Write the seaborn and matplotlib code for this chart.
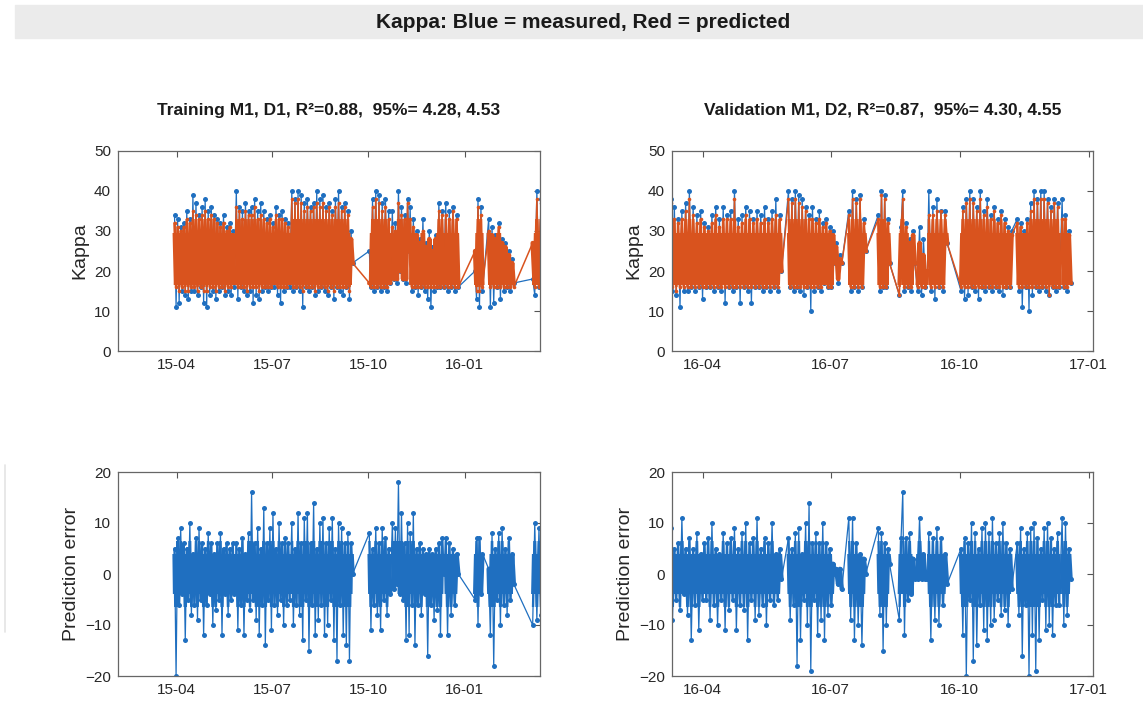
import numpy as np
import pandas as pd
import matplotlib.pyplot as plt
import matplotlib.dates as mdates
from matplotlib.patches import Rectangle
from matplotlib.lines import Line2D
import seaborn as sns

# --- training period (D1) ---
train_spans = [("2015-03-30", "2015-05-26"), ("2015-05-28", "2015-07-18"),
               ("2015-07-20", "2015-09-16"), ("2015-10-02", "2015-10-22"),
               ("2015-10-24", "2015-11-09"), ("2015-11-10", "2015-12-12"),
               ("2015-12-14", "2015-12-26"), ("2016-01-11", "2016-01-18"),
               ("2016-01-24", "2016-02-17"), ("2016-03-06", "2016-03-16")]
train_measured = [
    [34, 11, 33, 12, 31, 15, 32, 14, 35, 13, 33, 15, 39, 15, 37, 14, 34, 16, 36, 12,
     38, 11, 35, 14, 36, 15, 34, 13, 33, 15, 32, 16, 34, 14, 31, 15, 32, 14, 30, 16],
    [40, 13, 36, 16, 35, 15, 37, 14, 35, 15, 36, 12, 38, 14, 35, 13, 37, 15, 35, 16,
     33, 15, 34, 16, 32, 16, 36, 14, 34, 12, 35, 15, 33, 16, 32, 16],
    [40, 15, 38, 16, 40, 15, 39, 11, 37, 16, 38, 15, 36, 16, 37, 14, 40, 15, 38, 16,
     39, 15, 36, 14, 37, 16, 35, 13, 38, 16, 40, 15, 36, 14, 37, 16, 35, 13, 30, 22],
    [25, 16, 38, 15, 40, 16, 39, 15, 37, 16, 38, 15, 35, 17],
    [35, 18, 32, 17, 40, 20, 36, 18, 34, 17, 38, 25],
    [36, 15, 33, 16, 30, 14, 28, 16, 33, 15, 27, 13, 30, 11, 26, 15, 29, 16, 37, 16, 35, 16],
    [37, 15, 35, 16, 36, 15, 34, 16],
    [20, 13, 38, 11, 36, 15],
    [33, 11, 31, 12, 29, 16, 32, 13, 28, 15, 27, 16, 25, 15, 23, 17],
    [18, 14, 40, 16, 38, 20],
]
train_predicted = [
    [32, 16, 31, 15, 30, 16, 31, 15, 33, 15, 32, 16, 35, 16, 34, 15, 33, 16, 34, 15,
     35, 15, 33, 16, 34, 16, 33, 15, 32, 16, 31, 16, 32, 15, 30, 16, 31, 16, 29, 17],
    [36, 16, 35, 16, 33, 16, 35, 15, 34, 16, 34, 16, 36, 16, 33, 15, 34, 16, 33, 16,
     32, 16, 33, 16, 31, 17, 34, 16, 33, 16, 33, 16, 32, 16, 31, 17],
    [38, 16, 37, 16, 38, 16, 37, 15, 35, 16, 36, 16, 35, 16, 36, 15, 37, 16, 36, 16,
     37, 16, 35, 15, 36, 16, 34, 15, 36, 16, 37, 16, 35, 16, 36, 16, 34, 15, 28, 22],
    [17, 16, 36, 16, 38, 16, 37, 16, 35, 16, 36, 16, 33, 17],
    [31, 18, 30, 18, 37, 20, 34, 18, 33, 18, 37, 25],
    [33, 16, 31, 16, 29, 16, 27, 16, 30, 16, 26, 16, 28, 16, 25, 16, 28, 16, 35, 16, 34, 16],
    [34, 16, 33, 16, 35, 16, 33, 16],
    [25, 15, 36, 15, 34, 16],
    [30, 16, 29, 16, 28, 16, 31, 16, 27, 16, 26, 16, 24, 16, 22, 16],
    [27, 16, 38, 16, 37, 20],
]
train_error = [
    [5, -20, 7, -6, 9, -4, 6, -13, 5, -5, 10, -8, 4, -6, 7, -9, 9, -5, 6, -12,
     5, -6, 8, -4, 6, -10, 4, -7, 6, -5, 8, -12, 5, -4, 6, -8, 5, -5, 6, -4],
    [6, -11, 5, -6, 7, -12, 4, -5, 8, -7, 16, -5, 6, -9, 9, -12, 5, -6, 13, -14,
     6, -5, 9, -11, 12, -6, 5, -8, 10, -5, 6, -10, 7, -6, 6, -5],
    [10, -10, 5, -6, 12, -8, 6, -13, 11, -5, 12, -15, 6, -6, 14, -12, 5, -9, 10, -6,
     11, -12, 6, -10, 9, -5, 11, -13, 5, -17, 10, -6, 9, -12, 6, -14, 8, -17, 6, 0],
    [8, -11, 5, -6, 9, -8, 6, -11, 9, -5, 7, -8, 5, -4],
    [10, -3, 9, -2, 18, -4, 12, -5, 6, -13, 10, -12],
    [8, -6, 12, -14, 5, -6, 6, -8, 5, -4, 4, -16, 5, -6, 4, -9, 5, -7, 6, -12, 7, 0],
    [7, -12, 6, -8, 5, -6, 4, 0],
    [-5, 7, -10, 7, -4, 4],
    [1, -12, 8, -18, 5, -5, 8, -10, 9, -6, 5, -8, 7, -5, 4, -2],
    [-10, 10, -9, 9, -8, 5],
]

# --- validation period (D2) ---
val_spans = [("2016-03-09", "2016-05-27"), ("2016-06-01", "2016-07-04"),
             ("2016-07-05", "2016-07-09"), ("2016-07-14", "2016-07-26"),
             ("2016-08-04", "2016-08-12"), ("2016-08-19", "2016-08-30"),
             ("2016-09-01", "2016-09-08"), ("2016-09-09", "2016-09-22"),
             ("2016-10-02", "2016-11-07"), ("2016-11-11", "2016-12-11"),
             ("2016-12-13", "2016-12-19")]
val_measured = [
    [38, 15, 36, 14, 33, 11, 35, 15, 37, 15, 40, 16, 36, 15, 34, 16, 35, 13, 32, 16,
     31, 16, 34, 15, 36, 16, 33, 15, 36, 12, 34, 16, 35, 15, 40, 16, 33, 12, 34, 16,
     36, 15, 35, 12, 33, 16, 35, 16, 34, 15, 36, 16, 33, 15, 35, 16, 38, 15, 34, 20],
    [40, 16, 38, 15, 40, 16, 39, 15, 38, 14, 36, 16, 34, 10, 36, 15, 33, 16, 35, 15,
     32, 17, 33, 16, 31, 16, 30, 22],
    [27, 17, 24, 22],
    [35, 15, 40, 16, 38, 15, 39, 16, 33, 25],
    [34, 15, 40, 16, 39, 16, 33, 22],
    [14, 31, 40, 15, 32, 16, 28, 15, 30, 22],
    [15, 31, 14, 28, 16, 20],
    [40, 15, 36, 13, 38, 16, 35, 15, 35, 27],
    [15, 36, 13, 38, 14, 40, 16, 38, 15, 36, 13, 40, 16, 35, 15, 38, 16, 34, 15, 36,
     16, 33, 15, 35, 14, 33, 16, 31, 16, 30],
    [33, 15, 32, 11, 30, 16, 33, 10, 37, 14, 40, 16, 38, 15, 40, 16, 40, 15, 38, 14,
     36, 16, 38, 15, 37, 16],
    [38, 16, 34, 15, 30, 17],
]
val_predicted = [
    [37, 16, 33, 15, 32, 16, 33, 16, 35, 16, 38, 16, 34, 16, 32, 16, 33, 16, 31, 16,
     30, 16, 32, 16, 34, 16, 31, 16, 33, 16, 33, 16, 33, 16, 38, 16, 31, 16, 32, 16,
     34, 16, 33, 16, 32, 16, 33, 16, 32, 16, 33, 16, 32, 16, 33, 16, 34, 16, 33, 20],
    [38, 16, 37, 16, 38, 16, 37, 16, 36, 16, 35, 16, 33, 16, 33, 16, 32, 16, 33, 16,
     31, 17, 32, 16, 30, 16, 29, 22],
    [26, 18, 23, 22],
    [34, 16, 38, 16, 37, 16, 38, 16, 32, 25],
    [33, 16, 39, 16, 38, 16, 32, 22],
    [14, 30, 38, 16, 31, 16, 27, 16, 29, 22],
    [16, 27, 16, 24, 16, 20],
    [34, 16, 34, 16, 35, 16, 35, 16, 34, 27],
    [16, 35, 16, 37, 16, 38, 16, 37, 16, 35, 16, 38, 16, 34, 16, 36, 16, 33, 16, 35,
     16, 32, 16, 34, 16, 32, 16, 30, 16, 29],
    [32, 16, 31, 16, 29, 16, 32, 16, 35, 16, 38, 16, 37, 16, 38, 16, 38, 16, 37, 14,
     35, 16, 37, 16, 36, 16],
    [33, 16, 33, 16, 29, 17],
]
val_error = [
    [9, -9, 5, -5, 6, -7, 11, -4, 5, -8, 7, -13, 5, -6, 8, -11, 4, -5, 6, -5,
     7, -9, 10, -6, 5, -10, 4, -5, 8, -11, 6, -7, 7, -5, 9, -11, 5, -6, 8, -7,
     10, -13, 6, -5, 7, -9, 11, -8, 5, -6, 7, -10, 6, -5, 10, -6, 4, -5, 5, -1],
    [7, -9, 5, -6, 8, -18, 9, -13, 4, -5, 10, -10, 14, -19, 6, -5, 8, -12, 6, -9,
     10, -13, 6, -8, 5, -6, 2, 0],
    [1, -2, 1, -3],
    [11, -9, 11, -13, 6, -10, 4, -14, 3, 0],
    [9, -8, 8, -15, 6, -10, 5, 2],
    [-9, 7, 16, -12, 7, -5, 8, -4, 3, -1],
    [-1, 11, -1, 4, -1, -1],
    [8, -13, 7, -9, 9, -10, 7, -6, 4, -2],
    [5, -12, 7, -20, 6, -5, 10, -17, 8, -14, 5, -6, 9, -11, 10, -13, 8, -10, 11, -9,
     6, -5, 8, -8, 10, -7, 6, -10, 5, -3],
    [6, -8, 9, -16, 5, -6, 8, -20, 9, -12, 10, -19, 7, -13, 5, -5, 9, -11, 10, -10,
     7, -12, 5, -6, 8, -6],
    [11, -10, 10, -8, 5, -1],
]

titles = ["Training M1, D1, R\u00b2=0.88,  95%= 4.28, 4.53",
          "Validation M1, D2, R\u00b2=0.87,  95%= 4.30, 4.55"]
xlims = [("2015-02-04", "2016-03-13"), ("2016-03-10", "2017-01-04")]

BLUE = "#1f6fc0"
RED = "#d9531e"


def to_frame(spans, values):
    dates, seg = [], []
    for k, ((a, b), v) in enumerate(zip(spans, values)):
        dates.extend(pd.date_range(a, b, periods=len(v)))
        seg.extend([k] * len(v))
    return pd.DataFrame({"date": dates, "seg": seg,
                         "value": np.concatenate(values).astype(float)})


def draw(ax, df, color, lw, xlim, bands=(), ms=3.4):
    # thin full trace with dots, then heavier per-segment traces clipped to the dense core
    sns.lineplot(data=df, x="date", y="value", ax=ax, color=color, lw=lw,
                 marker="o", markersize=ms, markeredgewidth=0, estimator=None, sort=False)
    x0, x1 = mdates.date2num(pd.Timestamp(xlim[0])), mdates.date2num(pd.Timestamp(xlim[1]))
    for (b0, b1), blw in bands:
        n = len(ax.lines)
        sns.lineplot(data=df, x="date", y="value", units="seg", ax=ax, color=color,
                     lw=blw, estimator=None, sort=False)
        for ln in ax.lines[n:]:
            ln.set_clip_path(Rectangle((x0, b0), x1 - x0, b1 - b0, transform=ax.transData))


sns.set_theme(style="white")
plt.rcParams["font.family"] = ["Liberation Sans", "DejaVu Sans"]

W, H = 1143, 706
fig = plt.figure(figsize=(W / 100, H / 100), dpi=100)

# grey title strip
fig.add_artist(Rectangle((15 / W, 1 - 38 / H), (W - 15) / W, 33 / H,
                         transform=fig.transFigure, color="#ebebeb", zorder=0))
fig.text(583 / W, 1 - 22 / H, "Kappa: Blue = measured, Red = predicted",
         ha="center", va="center", fontsize=15, fontweight="bold", color="#1a1a1a")
fig.add_artist(Line2D([5 / W, 5 / W], [1 - 465 / H, 1 - 632 / H],
                      transform=fig.transFigure, color="#e4e4e4", lw=1.2))

lefts = [118 / W, 672 / W]
widths = [422 / W, 421 / W]
top_ax = [fig.add_axes([l, 1 - 351 / H, w, 200 / H]) for l, w in zip(lefts, widths)]
bot_ax = [fig.add_axes([l, 1 - 676 / H, w, 204 / H]) for l, w in zip(lefts, widths)]

sets = [(train_spans, train_measured, train_predicted, train_error),
        (val_spans, val_measured, val_predicted, val_error)]

for i, (spans, meas, pred, err) in enumerate(sets):
    ax = top_ax[i]
    draw(ax, to_frame(spans, meas), BLUE, 0.9, xlims[i], ms=3.6)
    draw(ax, to_frame(spans, pred), RED, 1.1, xlims[i],
         bands=[((16, 33), 1.8), ((16.5, 29.5), 3.2)], ms=2.6)
    ax.set_ylim(0, 50)
    ax.set_yticks([0, 10, 20, 30, 40, 50])
    ax.set_ylabel("Kappa", fontsize=14, color="#262626")
    ax.set_title(titles[i], fontsize=12.5, fontweight="bold", pad=26, color="#1a1a1a")

    ax = bot_ax[i]
    draw(ax, to_frame(spans, err), BLUE, 0.9, xlims[i],
         bands=[((-6.5, 6.5), 1.7), ((-4, 4), 3.2)], ms=3.6)
    ax.set_ylim(-20, 20)
    ax.set_yticks([-20, -10, 0, 10, 20])
    ax.set_ylabel("Prediction error", fontsize=14, color="#262626")

for i, ax in enumerate(top_ax + bot_ax):
    lo, hi = xlims[i % 2]
    ax.set_xlim(pd.Timestamp(lo), pd.Timestamp(hi))
    ax.xaxis.set_major_locator(mdates.MonthLocator(bymonth=[1, 4, 7, 10]))
    ax.xaxis.set_major_formatter(mdates.DateFormatter("%y-%m"))
    ax.set_xlabel("")
    ax.tick_params(direction="in", length=4, width=0.8, top=True, right=True,
                   labelsize=11, colors="#555555", labelcolor="#262626", pad=5)
    for s in ax.spines.values():
        s.set_color("#666666")
        s.set_linewidth(0.9)

fig.savefig("out.png", dpi=100)
